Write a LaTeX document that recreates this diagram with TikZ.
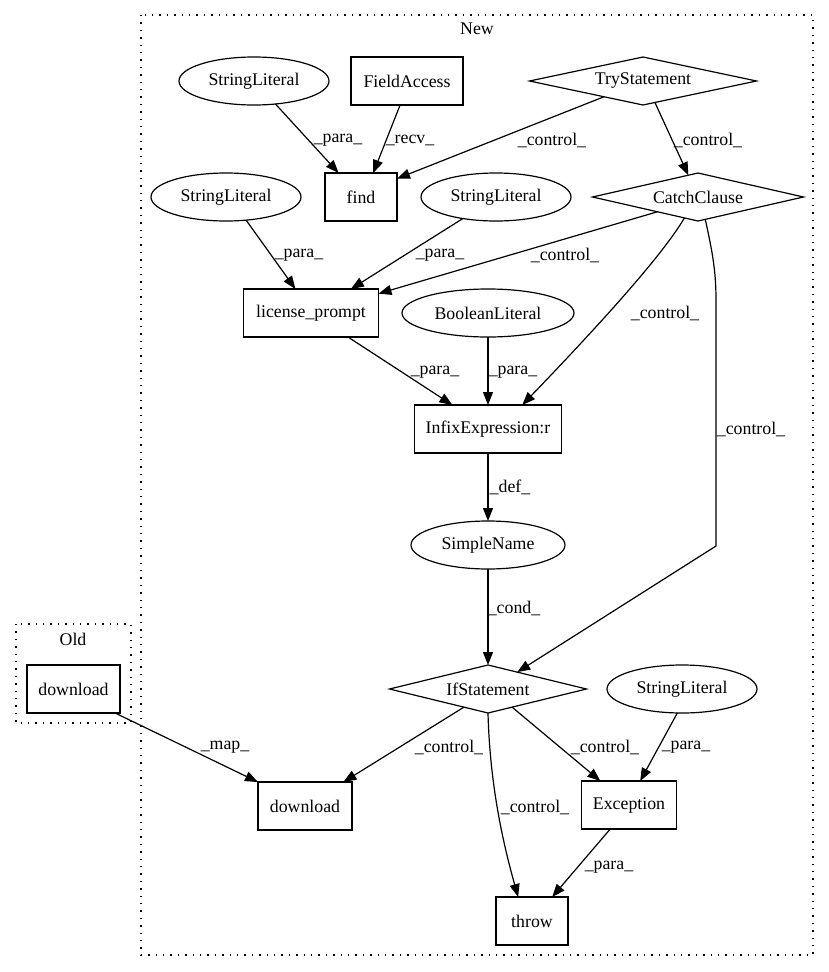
\documentclass[tikz,border=0pt]{standalone}
\usepackage{fontspec}
\setmainfont{Liberation Serif}
\usetikzlibrary{shapes.geometric,arrows.meta}
\begin{document}
\begin{tikzpicture}[x=1pt,y=-1pt,
  every node/.style={font=\fontsize{17.8}{20}\selectfont},
  base/.style={draw, line width=1.2pt, inner sep=0pt, outer sep=0pt, minimum height=48pt},
  boxn/.style={base, rectangle},
  ell/.style={base, ellipse},
  dia/.style={base, diamond, aspect=6},
  edge/.style={line width=1.2pt, -{Triangle[length=13pt,width=10pt]}},
  lbl/.style={inner sep=0pt},
  cluster/.style={line width=1.3pt, dash pattern=on 1.4pt off 6pt}]
\useasboundingbox (0,0) rectangle (829,972);

% clusters
\draw[cluster] (141,15) rectangle (813,955);
\node[lbl] (newlbl) at (477,29) {New};
\draw[cluster] (16,624) rectangle (131,723);
\node[lbl] (oldlbl) at (73,639) {Old};

% nodes
\node[ell, minimum width=150pt] (sl1) at (254,81) {StringLiteral};
\node[boxn, minimum width=112pt] (fa) at (407,81) {FieldAccess};
\node[dia, minimum width=227pt] (try) at (643,81) {TryStatement};
\node[boxn, minimum width=72pt] (find) at (361,197) {find};
\node[ell, minimum width=150pt] (sl2) at (226,197) {StringLiteral};
\node[ell, minimum width=150pt] (sl3) at (496,197) {StringLiteral};
\node[dia, minimum width=211pt] (catch) at (698,197) {CatchClause};
\node[boxn, minimum width=135pt] (lp) at (311,313) {license\_prompt};
\node[ell, minimum width=172pt] (bool) at (488,313) {BooleanLiteral};
\node[boxn, minimum width=147pt] (infix) at (488,429) {InfixExpression:r};
\node[ell, minimum width=154pt] (sn) at (488,545) {SimpleName};
\node[dia, minimum width=197pt] (ifs) at (488,689) {IfStatement};
\node[ell, minimum width=150pt] (sl4) at (682,689) {StringLiteral};
\node[boxn, minimum width=93pt] (dlold) at (73.5,689) {download};
\node[boxn, minimum width=94pt] (dl) at (305,806) {download};
\node[boxn, minimum width=95pt] (exc) at (629,805) {Exception};
\node[boxn, minimum width=72pt] (thr) at (532,921) {throw};

% helper coordinates
\coordinate (cb1) at (716,300);
\coordinate (cb2) at (716,546);

% edges
\draw[edge] (sl1.-47.6) -- (find.133.8);
\draw[edge] (fa.-106.3) -- (find.63.4);
\draw[edge] (try.-158.2) -- (find.27.8);
\draw[edge] (try.-61.4) -- (catch.114.4);
\draw[edge] (sl2.-49) -- (lp.123.7);
\draw[edge] (sl3.-147) -- (lp.31.6);
\draw[edge] (catch.-160.8) -- (lp.16.9);
\draw[edge] (catch.-123.7) .. controls (660,260) and (580,345) .. (infix.35.2);
\draw[edge] (catch.-72) .. controls (712,250) and (716,270) .. (cb1) -- (cb2) -- (ifs.30);
\draw[edge] (lp.-33) -- (infix.146.3);
\draw[edge] (bool.south) -- (infix.north);
\draw[edge] (infix.south) -- (sn.north);
\draw[edge] (sn.south) -- (ifs.north);
\draw[edge] (ifs.-143.8) -- (dl.32.3);
\draw[edge] (ifs.-37) -- (exc.140.4);
\draw[edge] (ifs.south) .. controls (490,790) and (505,850) .. (thr.120.3);
\draw[edge] (sl4.-101.8) -- (exc.65.4);
\draw[edge] (exc.-128.4) -- (thr.50.2);
\draw[edge] (dlold.-30) -- (dl.153);

% edge labels
\node[lbl] (l1) at (338,140) {\_para\_};
\node[lbl] (l2) at (410,140) {\_recv\_};
\node[lbl] (l3) at (552,140) {\_control\_};
\node[lbl] (l4) at (708,140) {\_control\_};
\node[lbl] (l5) at (299,255) {\_para\_};
\node[lbl] (l6) at (440,255) {\_para\_};
\node[lbl] (l7) at (565,255) {\_control\_};
\node[lbl] (l8) at (665,313) {\_control\_};
\node[lbl] (l9) at (435,372) {\_para\_};
\node[lbl] (l10) at (513,372) {\_para\_};
\node[lbl] (l11) at (510,487) {\_def\_};
\node[lbl] (l12) at (514,608) {\_cond\_};
\node[lbl] (l13) at (751,429) {\_control\_};
\node[lbl] (l14) at (225,747) {\_map\_};
\node[lbl] (l15) at (449,747) {\_control\_};
\node[lbl] (l16) at (605,747) {\_control\_};
\node[lbl] (l17) at (686,747) {\_para\_};
\node[lbl] (l18) at (535,807) {\_control\_};
\node[lbl] (l19) at (609,867) {\_para\_};
\end{tikzpicture}
\end{document}
